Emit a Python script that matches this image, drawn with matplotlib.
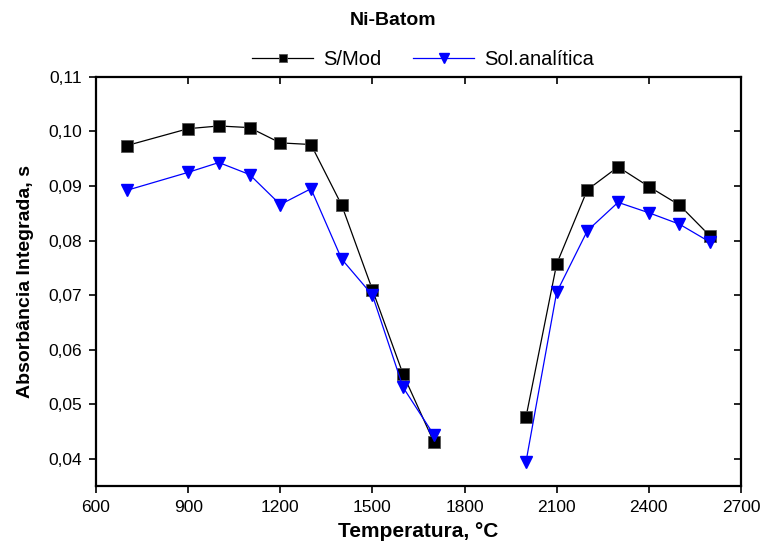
import numpy as np
import matplotlib.pyplot as plt
from matplotlib.ticker import FuncFormatter, MultipleLocator

plt.rcParams['font.family'] = ['Liberation Sans', 'DejaVu Sans']

# temperatures (°C); None marks the break between the two runs
temp = [700, 900, 1000, 1100, 1200, 1300, 1400, 1500, 1600, 1700, None,
        2000, 2100, 2200, 2300, 2400, 2500, 2600]
s_mod = [0.0974, 0.1005, 0.1010, 0.1007, 0.0979, 0.0976, 0.0865, 0.0710, 0.0555, 0.0431, None,
         0.0476, 0.0757, 0.0893, 0.0935, 0.0899, 0.0865, 0.0808]
sol_anal = [0.0892, 0.0925, 0.0943, 0.0921, 0.0866, 0.0895, 0.0766, 0.0700, 0.0531, 0.0444, None,
            0.0394, 0.0705, 0.0818, 0.0870, 0.0851, 0.0830, 0.0797]

x = np.array([np.nan if v is None else v for v in temp], dtype=float)
y1 = np.array([np.nan if v is None else v for v in s_mod], dtype=float)
y2 = np.array([np.nan if v is None else v for v in sol_anal], dtype=float)

fig = plt.figure(figsize=(7.65, 5.45), dpi=100)
ax = fig.add_axes([0.1255, 0.108, 0.843, 0.751])

ax.plot(x, y1, color='black', lw=0.9, marker='s', ms=8, mfc='black', mec='#555555', mew=0.6,
        label='S/Mod')
ax.plot(x, y2, color='blue', lw=0.9, marker='v', ms=9, mfc='blue', mec='blue',
        label='Sol.analítica')

ax.set_xlim(600, 2700)
ax.set_ylim(0.035, 0.11)
ax.xaxis.set_major_locator(MultipleLocator(300))
ax.yaxis.set_major_locator(MultipleLocator(0.01))
ax.yaxis.set_major_formatter(FuncFormatter(lambda v, p: ('%.2f' % v).replace('.', ',')))

for s in ax.spines.values():
    s.set_linewidth(1.6)
ax.tick_params(axis='both', which='major', direction='out', length=5, width=1.2,
               labelsize=12.5, pad=5)
ax.tick_params(top=True, right=True)
# ticks on the top and right edges point inward
for t in ax.xaxis.get_major_ticks():
    t.tick2line.set_marker(3)
    t.tick2line.set_markersize(5)
for t in ax.yaxis.get_major_ticks():
    t.tick2line.set_marker(0)
    t.tick2line.set_markersize(5)

ax.set_xlabel('Temperatura, °C', fontsize=15, fontweight='bold', labelpad=5)
ax.set_ylabel('Absorbância Integrada, s', fontsize=14, fontweight='bold', labelpad=10)

fig.text(0.514, 0.962, 'Ni-Batom', ha='center', va='center', fontsize=14, fontweight='bold')
fig.legend(loc='center', bbox_to_anchor=(0.553, 0.89), ncol=2, frameon=False,
           fontsize=14.5, handlelength=3.0, columnspacing=1.6, handletextpad=0.5,
           markerscale=0.75)

fig.savefig('out.png', dpi=100)
